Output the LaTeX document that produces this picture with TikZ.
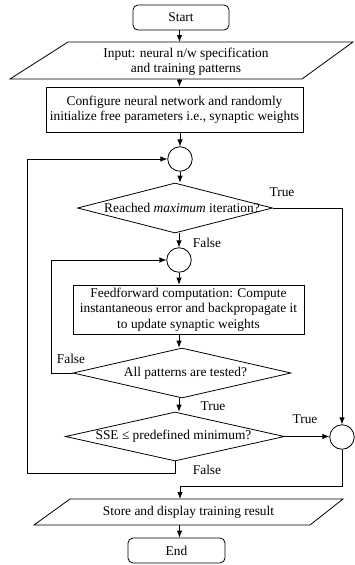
\documentclass[tikz,border=0pt]{standalone}
\usepackage{fontspec}
\setmainfont{Liberation Serif}
\usetikzlibrary{shapes.geometric,arrows.meta,calc}

\begin{document}
\begin{tikzpicture}[x=1pt,y=-1pt,
  font=\fontsize{13.4}{15.5}\selectfont,
  line width=0.8pt,
  arr/.style={-{Latex[length=7pt,width=5.5pt]}},
  terminal/.style={draw,rounded corners=5pt,minimum width=96pt,minimum height=25pt,inner sep=0pt},
  process/.style={draw,align=center,inner sep=0pt},
  decision/.style={draw,diamond,aspect=1,inner sep=0pt},
  junction/.style={draw,circle,minimum size=24.5pt,inner sep=0pt},
  lbl/.style={inner sep=0pt},
  iotext/.style={align=center,inner sep=0pt},
]
\useasboundingbox (0,0) rectangle (354,565);

% main column and helper points
\coordinate (col) at (179.5,0);
\coordinate (loopL) at (27,473);
\coordinate (merge) at (180,486);

% start
\node[terminal] (start) at (181,17.5) {Start};

% input (parallelogram)
\coordinate (in1) at (68,42);
\coordinate (in2) at (353,42);
\coordinate (in3) at (302,79);
\coordinate (in4) at (10,79);
\draw (in1) -- (in2) -- (in3) -- (in4) -- cycle;
\node[iotext] (input) at (186,61.5) {Input: neural n/w specification\\and training patterns};

% configuration
\node[process,minimum width=257pt,minimum height=45pt] (config) at (174.5,109.5)
  {Configure neural network and randomly\\initialize free parameters i.e., synaptic weights};

% outer loop junction and iteration test
\node[junction] (c1) at (180,159) {};
\node[decision,minimum width=195pt,minimum height=50pt] (d1) at (175,208)
  {\makebox[0pt]{\hspace{14pt}Reached \textit{maximum} iteration?}};

% inner loop
\node[junction] (c2) at (179,260) {};
\node[process,minimum width=231pt,minimum height=49pt] (ff) at (188.5,309.5)
  {Feedforward computation: Compute\\instantaneous error and backpropagate it\\to update synaptic weights};
\node[decision,minimum width=218pt,minimum height=50pt] (d2) at (182,373)
  {\makebox[0pt]{\hspace{7pt}All patterns are tested?}};

% error test
\node[decision,minimum width=219pt,minimum height=49pt] (d3) at (175,436.5)
  {\makebox[0pt]{\hspace{-3pt}SSE ≤ predefined minimum?}};
\node[junction] (c3) at (342,437) {};

% output and end
\coordinate (s1) at (70,499);
\coordinate (s2) at (343,499);
\coordinate (s3) at (310,525);
\coordinate (s4) at (34,525);
\draw (s1) -- (s2) -- (s3) -- (s4) -- cycle;
\node[iotext] (store) at (188.5,512) {Store and display training result};
\node[terminal,minimum width=97pt] (end) at (176.5,550.5) {End};

% connectors
\draw[arr] (start.south -| col) -- (in1 -| col);
\draw[arr] (in4 -| col) -- (config.north -| col);
\draw[arr] (config.south -| c1) -- (c1.north);
\draw[arr] (c1.south) -- (c1.south |- d1.north);
\draw[arr] (d1.east) -- (d1.east -| c3) -- (c3.north);
\draw[arr] (c2.north |- d1.south) -- (c2.north);
\draw[arr] (c2.south) -- (c2.south |- ff.north);
\draw[arr] (ff.south -| c2) -- (c2 |- d2.north);
\draw[arr] (d2.west) -- ++(-21,0) |- (c2.west);
\draw[arr] (d2.south -| c2) -- (c2 |- d3.north);
\draw[arr] (d3.east) -- (d3.east -| c3.west);
\draw[arr] (d3.south) |- (loopL) |- (c1.west);
\draw[arr] (c3.south) |- (merge) -- (merge |- s1);
\draw[arr] (s4 -| col) -- (end.north -| col);

% branch labels
\node[lbl] (t1) at (282,192) {True};
\node[lbl] (f1) at (207,243) {False};
\node[lbl] (f2) at (71,359) {False};
\node[lbl] (t2) at (213,406) {True};
\node[lbl] (t3) at (305,419) {True};
\node[lbl] (f3) at (207,470) {False};
\end{tikzpicture}
\end{document}
